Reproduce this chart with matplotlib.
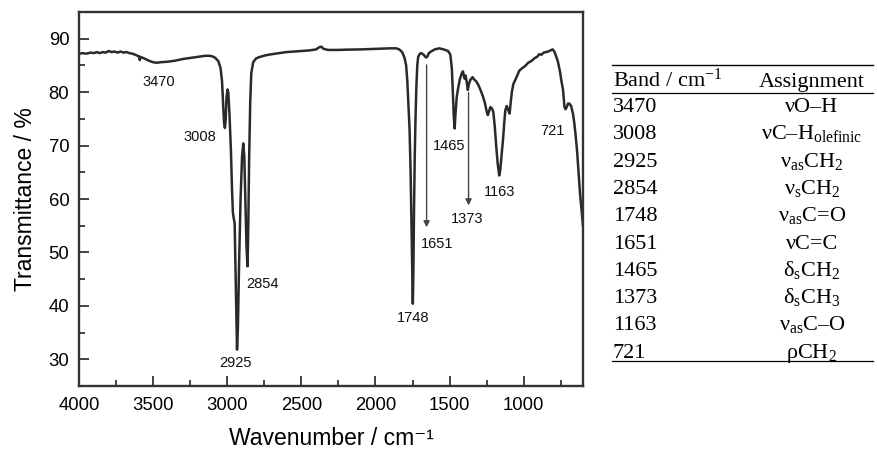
import matplotlib
matplotlib.use("Agg")
import matplotlib.pyplot as plt

plt.rcParams['font.family'] = ['Liberation Sans', 'DejaVu Sans']
plt.rcParams['mathtext.fontset'] = 'custom'
plt.rcParams['mathtext.rm'] = 'Liberation Serif'
plt.rcParams['mathtext.it'] = 'Liberation Serif:italic'
plt.rcParams['mathtext.bf'] = 'Liberation Serif:bold'

# ---- spectrum data ----
wavenumber = [4000, 3975, 3950, 3920, 3900, 3880, 3860, 3840, 3820, 3800, 3780, 3760, 3740,
              3720, 3700, 3680, 3660, 3640, 3620, 3605, 3595, 3590, 3585, 3560, 3530, 3500,
              3475, 3450, 3400, 3350, 3300, 3250, 3200, 3150, 3120, 3100, 3080, 3060, 3045,
              3035, 3028, 3022, 3016, 3010, 3005, 2998, 2993, 2985, 2975, 2968, 2962, 2957,
              2950, 2942, 2934, 2928, 2920, 2910, 2900, 2892, 2885, 2878, 2870, 2863, 2858,
              2852, 2845, 2838, 2825, 2806, 2780, 2740, 2700, 2650, 2600, 2500, 2450, 2400,
              2380, 2365, 2350, 2320, 2250, 2200, 2100, 2000, 1900, 1860, 1840, 1820, 1805,
              1793, 1785, 1778, 1770, 1763, 1757, 1752, 1748, 1744, 1740, 1735, 1730, 1724,
              1718, 1712, 1700, 1690, 1675, 1660, 1651, 1640, 1625, 1600, 1570, 1540, 1510,
              1495, 1485, 1478, 1472, 1466, 1460, 1452, 1444, 1430, 1418, 1410, 1403, 1398,
              1392, 1385, 1377, 1370, 1360, 1345, 1335, 1320, 1305, 1290, 1275, 1262, 1250,
              1242, 1233, 1225, 1215, 1205, 1195, 1185, 1175, 1165, 1158, 1150, 1140, 1132,
              1124, 1115, 1108, 1100, 1095, 1088, 1080, 1070, 1050, 1030, 1010, 990, 970,
              955, 940, 925, 910, 895, 880, 865, 850, 835, 820, 805, 795, 785, 770, 755, 745,
              735, 725, 718, 710, 700, 690, 680, 668, 660, 650, 640, 630, 620, 610, 600]
transmittance = [87.2, 87.3, 87.2, 87.4, 87.3, 87.5, 87.3, 87.5, 87.4, 87.7, 87.5, 87.6, 87.4,
                 87.6, 87.4, 87.5, 87.3, 87.2, 87.0, 86.8, 86.7, 86.0, 86.6, 86.3, 85.9, 85.6,
                 85.5, 85.6, 85.7, 85.9, 86.2, 86.4, 86.6, 86.8, 86.8, 86.7, 86.4, 85.8, 84.5,
                 82.0, 78.0, 74.5, 73.3, 75.0, 79.0, 80.5, 80.0, 76.0, 69.0, 62.0, 57.5, 56.5,
                 55.5, 44.0, 31.8, 36.0, 48.0, 60.0, 68.0, 70.4, 68.0, 60.0, 51.0, 47.4, 55.0,
                 68.0, 78.0, 83.5, 85.6, 86.3, 86.6, 86.9, 87.1, 87.3, 87.5, 87.7, 87.8, 88.0,
                 88.4, 88.5, 88.1, 87.9, 87.9, 87.95, 88.0, 88.1, 88.2, 88.2, 88.0, 87.5, 86.5,
                 85.0, 82.0, 78.0, 73.0, 65.0, 55.0, 46.0, 40.4, 47.0, 58.0, 68.0, 75.0, 81.0,
                 85.0, 86.6, 87.2, 87.3, 87.0, 86.5, 86.6, 87.3, 87.6, 88.0, 88.2, 88.0, 87.7,
                 87.0, 84.5, 80.0, 75.5, 73.2, 76.0, 79.0, 80.5, 82.5, 83.5, 83.9, 83.0, 82.5,
                 83.1, 82.0, 80.4, 81.5, 82.3, 82.8, 82.4, 82.0, 81.3, 80.3, 79.2, 78.0, 76.4,
                 75.7, 76.5, 77.2, 77.0, 76.3, 73.5, 69.7, 66.5, 64.4, 65.5, 68.0, 71.0, 74.0,
                 76.6, 77.4, 77.0, 76.3, 76.0, 78.0, 80.0, 81.5, 82.7, 84.0, 84.5, 84.9, 85.5,
                 85.7, 86.0, 86.4, 86.6, 87.1, 87.0, 87.4, 87.5, 87.6, 87.8, 88.0, 87.7, 87.0,
                 85.8, 83.8, 82.0, 80.5, 77.2, 76.8, 77.2, 77.9, 77.8, 77.4, 76.0, 74.5, 72.0,
                 69.0, 65.0, 61.0, 58.0, 55.0]

# ---- peak labels ----
label_text = ['3470', '3008', '2925', '2854', '1748', '1651', '1465', '1373', '1163', '721']
label_x = [3464, 3182, 2947, 2761, 1745, 1584, 1500, 1380, 1164, 805]
label_y = [81.9, 71.6, 29.3, 44.0, 37.8, 51.6, 69.9, 56.3, 61.3, 72.7]

# ---- arrows (x, start y, end y) ----
arrow_x = [1655, 1372]
arrow_y0 = [85.1, 79.9]
arrow_y1 = [54.7, 58.8]

# ---- axis ticks ----
xticks = [4000, 3500, 3000, 2500, 2000, 1500, 1000]
yticks = [30, 40, 50, 60, 70, 80, 90]

# ---- table ----
table_header = ['Band / cm$^{\\mathrm{-1}}$', 'Assignment']
table_bands = ['3470', '3008', '2925', '2854', '1748', '1651', '1465', '1373', '1163', '721']
table_assign = ['νO–H', 'νC–H$_{\\mathrm{olefinic}}$', 'ν$_{\\mathrm{as}}$CH$_{\\mathrm{2}}$',
                'ν$_{\\mathrm{s}}$CH$_{\\mathrm{2}}$', 'ν$_{\\mathrm{as}}$C=O', 'νC=C',
                'δ$_{\\mathrm{s}}$CH$_{\\mathrm{2}}$', 'δ$_{\\mathrm{s}}$CH$_{\\mathrm{3}}$',
                'ν$_{\\mathrm{as}}$C–O', 'ρCH$_{\\mathrm{2}}$']

W, H = 877, 449
fig = plt.figure(figsize=(W / 100, H / 100), dpi=100)
ax = fig.add_axes([79 / W, 1 - 386 / H, (583 - 79) / W, (386 - 12) / H])

ax.plot(wavenumber, transmittance, color='#2a2a2a', lw=1.8, solid_joinstyle='round')
ax.set_xlim(4000, 600)
ax.set_ylim(25, 95)
ax.set_xticks(xticks)
ax.set_yticks(yticks)
ax.set_xticks([3750, 3250, 2750, 2250, 1750, 1250, 750], minor=True)
ax.set_yticks([35, 45, 55, 65, 75, 85], minor=True)
ax.tick_params(which='both', direction='in', top=False, right=False, color='#333333', width=1.3)
ax.tick_params(which='major', length=7)
ax.tick_params(which='minor', length=4)
ax.tick_params(axis='x', which='major', labelsize=13.3, pad=8)
ax.tick_params(axis='y', which='major', labelsize=13.3, pad=7)
for s in ax.spines.values():
    s.set_linewidth(1.7)
    s.set_color('#333333')

ax.set_xlabel('Wavenumber / cm⁻¹', fontsize=16.5, labelpad=9)
ax.set_ylabel('Transmittance / %', fontsize=16.5, labelpad=8)

for t, x, y in zip(label_text, label_x, label_y):
    ax.text(x, y, t, fontsize=10.5, ha='center', va='center', color='#111111')

for x, y0, y1 in zip(arrow_x, arrow_y0, arrow_y1):
    ax.annotate('', xy=(x, y1), xytext=(x, y0),
                arrowprops=dict(arrowstyle='-|>', color='#444444', lw=1.0,
                                mutation_scale=9, shrinkA=0, shrinkB=0))

# ---- table drawing ----
tl, tr = 612 / W, 873 / W
col1_x = 613 / W
col2_x = 812 / W
fs = 16
for yy, lw in [(65, 1.0), (93, 0.9), (361, 0.9)]:
    fig.add_artist(plt.Line2D([tl, tr], [1 - yy / H, 1 - yy / H], color='black', lw=lw))

base_off = 7
fig.text(col1_x, 1 - (80 + base_off) / H, table_header[0], fontsize=fs,
         family='Liberation Serif', ha='left', va='baseline')
fig.text(col2_x, 1 - (80 + base_off) / H, table_header[1], fontsize=fs,
         family='Liberation Serif', ha='center', va='baseline')
for i, (b, a) in enumerate(zip(table_bands, table_assign)):
    yc = 105 + 27.3 * i
    fig.text(col1_x, 1 - (yc + base_off) / H, b, fontsize=fs,
             family='Liberation Serif', ha='left', va='baseline')
    fig.text(col2_x, 1 - (yc + base_off) / H, a, fontsize=fs,
             family='Liberation Serif', ha='center', va='baseline')

fig.savefig('out.png', dpi=100)
